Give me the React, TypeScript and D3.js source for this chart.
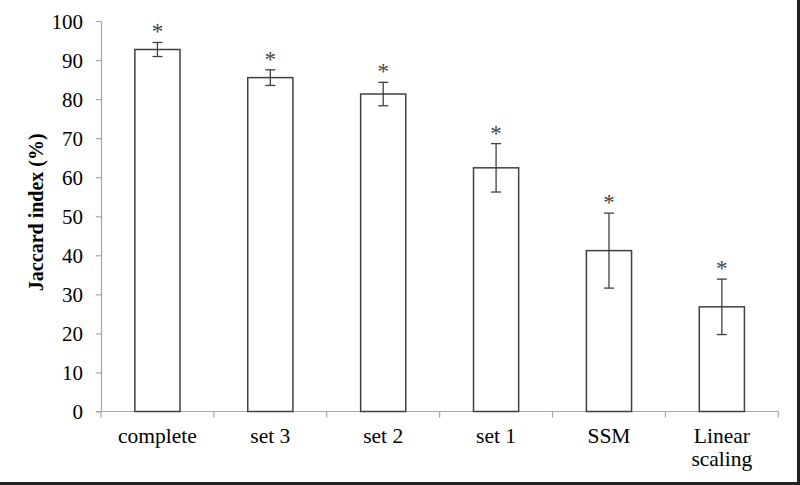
import React, { useEffect, useRef } from "react";
import * as d3 from "d3";

const categories = ["complete", "set 3", "set 2", "set 1", "SSM", "Linear scaling"];
const means = [92.7, 85.5, 81.3, 62.4, 41.2, 26.8];
const errors = [1.8, 2.0, 3.0, 6.2, 9.6, 7.1];
const yTicks = [0, 10, 20, 30, 40, 50, 60, 70, 80, 90, 100];

const App = () => {
  const svgRef = useRef<SVGSVGElement | null>(null);

  useEffect(() => {
    const svg = d3.select(svgRef.current);
    svg.selectAll("*").remove();

    const width = 800;
    const height = 485;
    const left = 101;
    const right = 778.3;
    const top = 21;
    const bottom = 411.5;
    const font = "'Liberation Serif', 'Times New Roman', serif";
    const axisColor = "#a6a6a6";
    const barColor = "#404040";

    svg.append("rect").attr("width", width).attr("height", height).attr("fill", "#fff");

    const x = d3.scaleBand().domain(categories).range([left, right]).padding(0);
    const y = d3.scaleLinear().domain([0, 100]).range([bottom, top]);
    const barW = x.bandwidth() * 0.4;

    // y axis
    const yAxis = svg
      .append("g")
      .attr("transform", `translate(${left},0)`)
      .call(d3.axisLeft(y).tickValues(yTicks).tickSize(5).tickSizeOuter(0).tickPadding(13));
    yAxis.attr("font-family", font).attr("font-size", 21);
    yAxis.select(".domain").attr("stroke", axisColor).attr("stroke-width", 1.2);
    yAxis.selectAll(".tick line").attr("stroke", axisColor).attr("stroke-width", 1.2);
    yAxis.selectAll(".tick text").attr("fill", "#000").attr("dy", "0.34em");

    // x axis line + ticks at band edges
    svg
      .append("line")
      .attr("x1", left - 5)
      .attr("x2", right)
      .attr("y1", bottom)
      .attr("y2", bottom)
      .attr("stroke", axisColor)
      .attr("stroke-width", 1.2);
    const edges = categories.map((c) => x(c) as number).concat([right]);
    svg
      .selectAll(".xtick")
      .data(edges)
      .enter()
      .append("line")
      .attr("x1", (d) => d)
      .attr("x2", (d) => d)
      .attr("y1", bottom)
      .attr("y2", bottom + 6)
      .attr("stroke", axisColor)
      .attr("stroke-width", 1.2);

    // category labels
    const labels = svg
      .selectAll(".xlabel")
      .data(categories)
      .enter()
      .append("text")
      .attr("text-anchor", "middle")
      .attr("font-family", font)
      .attr("font-size", 21.5)
      .attr("fill", "#000");
    labels.each(function (d) {
      const t = d3.select(this);
      const cx = (x(d) as number) + x.bandwidth() / 2;
      const words = d === "Linear scaling" ? ["Linear", "scaling"] : [d];
      words.forEach((w, i) => {
        t.append("tspan")
          .attr("x", cx)
          .attr("y", 443 + i * 23)
          .text(w);
      });
    });

    // bars
    svg
      .selectAll(".bar")
      .data(categories)
      .enter()
      .append("rect")
      .attr("x", (d) => (x(d) as number) + (x.bandwidth() - barW) / 2)
      .attr("y", (_, i) => y(means[i]))
      .attr("width", barW)
      .attr("height", (_, i) => bottom - y(means[i]))
      .attr("fill", "#fff")
      .attr("stroke", barColor)
      .attr("stroke-width", 1.5);

    // error bars
    const eg = svg
      .selectAll(".err")
      .data(categories)
      .enter()
      .append("g")
      .attr("transform", (d) => `translate(${(x(d) as number) + x.bandwidth() / 2},0)`);
    eg.append("line")
      .attr("y1", (_, i) => y(means[i] + errors[i]))
      .attr("y2", (_, i) => y(means[i] - errors[i]))
      .attr("stroke", barColor)
      .attr("stroke-width", 1.3);
    eg.append("line")
      .attr("x1", -5)
      .attr("x2", 5)
      .attr("y1", (_, i) => y(means[i] + errors[i]))
      .attr("y2", (_, i) => y(means[i] + errors[i]))
      .attr("stroke", barColor)
      .attr("stroke-width", 1.3);
    eg.append("line")
      .attr("x1", -5)
      .attr("x2", 5)
      .attr("y1", (_, i) => y(means[i] - errors[i]))
      .attr("y2", (_, i) => y(means[i] - errors[i]))
      .attr("stroke", barColor)
      .attr("stroke-width", 1.3);
    eg.append("text")
      .attr("y", (_, i) => y(means[i] + errors[i]) - 3)
      .attr("text-anchor", "middle")
      .attr("font-family", font)
      .attr("font-size", 23)
      .attr("fill", "#444")
      .text("*");

    // y label
    svg
      .append("text")
      .attr("transform", `translate(43,${(top + bottom) / 2 - 4}) rotate(-90)`)
      .attr("text-anchor", "middle")
      .attr("font-family", font)
      .attr("font-size", 20)
      .attr("font-weight", "bold")
      .attr("fill", "#000")
      .text("Jaccard index (%)");

    // dark frame at right and bottom edges
    svg.append("rect").attr("x", 797).attr("y", 0).attr("width", 3).attr("height", height).attr("fill", "#222");
    svg.append("rect").attr("x", 0).attr("y", 482).attr("width", width).attr("height", 3).attr("fill", "#222");
  }, []);

  return (
    <svg
      ref={svgRef}
      width={800}
      height={485}
      style={{ position: "absolute", left: 0, top: 0 }}
    />
  );
};

export default App;
